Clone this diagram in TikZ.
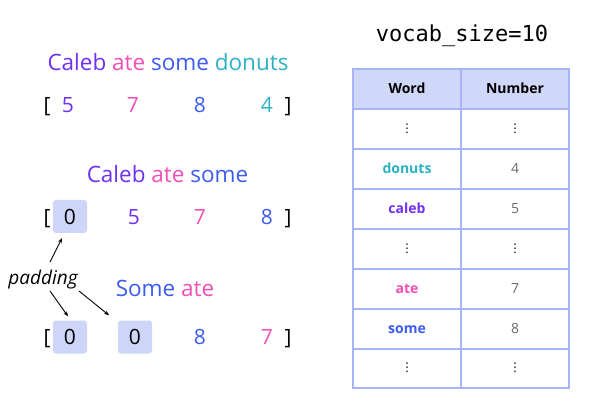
\documentclass[tikz,border=0pt]{standalone}
\usepackage{fontspec}
\setmainfont{Open Sans}
\newfontfamily\monofont{DejaVu Sans Mono}
\newfontfamily\dotfont{DejaVu Sans}
\usetikzlibrary{arrows.meta}
\definecolor{cpurple}{HTML}{7030F5}
\definecolor{cpink}{HTML}{F04FB5}
\definecolor{cblue}{HTML}{3B5BF2}
\definecolor{cteal}{HTML}{2BB3C4}
\definecolor{tline}{HTML}{A8B4FA}
\definecolor{thead}{HTML}{D0D8FA}
\definecolor{padfill}{HTML}{CDD5F8}
\definecolor{tgray}{HTML}{6A6A6A}
\tikzset{
  big/.style={inner sep=0pt, anchor=base, font=\fontsize{21}{25}\selectfont},
  sent/.style={inner sep=0pt, anchor=base, font=\fontsize{22.5}{27}\selectfont},
  padbox/.style={fill=padfill, rounded corners=3pt, minimum width=34pt, minimum height=33pt, inner sep=0pt, font=\fontsize{21}{25}\selectfont},
  cell/.style={inner sep=0pt, anchor=base, font=\fontsize{14}{17}\selectfont\bfseries},
  numcell/.style={inner sep=0pt, anchor=base, font=\fontsize{14}{17}\selectfont, text=tgray},
  dotcell/.style={inner sep=0pt, font=\dotfont\fontsize{12}{14}\selectfont},
  arr/.style={-{Stealth[length=5pt,width=4pt]}, line width=0.9pt},
  grid/.style={draw=tline, line width=1.4pt}
}
\begin{document}
\begin{tikzpicture}[x=1pt,y=-1pt]
\useasboundingbox (0,0) rectangle (600,414);
% row 1
\node[sent] (s1) at (168,71) {\textcolor{cpurple}{Caleb} \textcolor{cpink}{ate} \textcolor{cblue}{some} \textcolor{cteal}{donuts}};
\node[big] (l1) at (47,113) {[};
\node[big,text=cpurple] (a1) at (68,113) {5};
\node[big,text=cpink] (a2) at (133,113) {7};
\node[big,text=cblue] (a3) at (200,113) {8};
\node[big,text=cteal] (a4) at (267,113) {4};
\node[big] (r1) at (288,113) {]};
% row 2
\node[sent] (s2) at (167.5,183) {\textcolor{cpurple}{Caleb} \textcolor{cpink}{ate} \textcolor{cblue}{some}};
\node[big] (l2) at (47,225) {[};
\node[padbox] (b1) at (70,216.5) {0};
\node[big,text=cpurple] (c2) at (134,225) {5};
\node[big,text=cpink] (c3) at (200,225) {7};
\node[big,text=cblue] (c4) at (267,225) {8};
\node[big] (r2) at (288,225) {]};
% row 3
\node[sent] (s3) at (165,297) {\textcolor{cblue}{Some} \textcolor{cpink}{ate}};
\node[big] (l3) at (47,344) {[};
\node[padbox] (b2) at (70,337) {0};
\node[padbox] (b3) at (135,337) {0};
\node[big,text=cblue] (d3) at (200,344) {8};
\node[big,text=cpink] (d4) at (267,344) {7};
\node[big] (r3) at (288,344) {]};
% padding
\node[inner sep=0pt, anchor=base, font=\fontsize{19}{22}\selectfont\itshape] (pad) at (43,284) {padding};
\coordinate (p1) at (50,262);
\coordinate (p2) at (50,291);
\coordinate (p3) at (79,291);
\draw[arr] (p1) -- ([xshift=-8pt,yshift=-5pt]b1.south);
\draw[arr] (p2) -- ([xshift=-2pt,yshift=4pt]b2.north);
\draw[arr] (p3) -- ([xshift=-26pt,yshift=5pt]b3.north);
% title
\node[inner sep=0pt, anchor=base, font=\monofont\fontsize{22}{26}\selectfont] (title) at (462,42) {vocab\_size=10};
% table
\fill[thead] (353,69) rectangle (569,109);
\draw[grid] (353,69) rectangle (569,388);
\draw[grid] (461,69) -- (461,388);
\foreach \yy in {109,149,189,229,269,309,349} {\draw[grid] (353,\yy) -- (569,\yy);}
\node[cell] (hw) at (407,94) {Word};
\node[cell] (hn) at (515,94) {Number};
\node[dotcell] (v1a) at (407,129) {⋮};
\node[dotcell] (v1b) at (515,129) {⋮};
\node[cell,text=cteal] (w1) at (407,174) {donuts};
\node[numcell] (n1) at (515,174) {4};
\node[cell,text=cpurple] (w2) at (407,214) {caleb};
\node[numcell] (n2) at (515,214) {5};
\node[dotcell] (v2a) at (407,249) {⋮};
\node[dotcell] (v2b) at (515,249) {⋮};
\node[cell,text=cpink] (w3) at (407,294) {ate};
\node[numcell] (n3) at (515,294) {7};
\node[cell,text=cblue] (w4) at (407,334) {some};
\node[numcell] (n4) at (515,334) {8};
\node[dotcell] (v3a) at (407,368) {⋮};
\node[dotcell] (v3b) at (515,368) {⋮};
\end{tikzpicture}
\end{document}
